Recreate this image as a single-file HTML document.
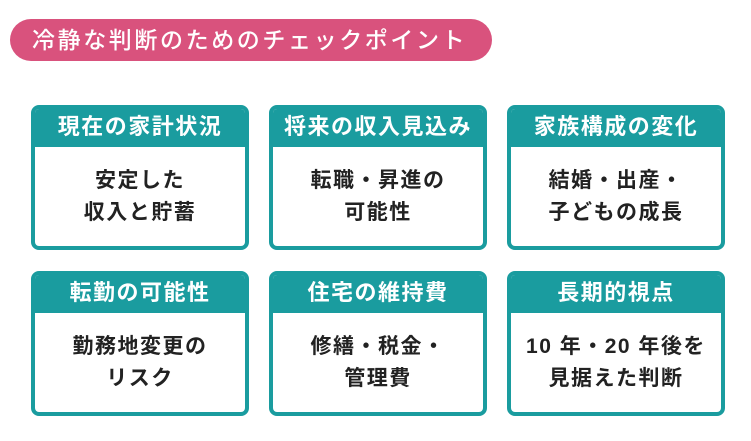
<!DOCTYPE html>
<html><head><meta charset="utf-8"><style>
body{margin:0;width:751px;height:441px;background:#fff;position:relative;overflow:hidden;font-family:"Liberation Sans","Noto Sans CJK JP",sans-serif;}
.pill{position:absolute;left:10px;top:19px;width:482px;height:42px;border-radius:21px;background:#d9527d;color:#fff;font-size:23px;line-height:42px;padding-left:22px;box-sizing:border-box;letter-spacing:2.6px;font-weight:500;white-space:nowrap;}
.box{position:absolute;width:218px;height:145px;box-sizing:border-box;border:4px solid #1a9c9f;border-radius:8px;background:#fff;overflow:hidden;}
.hd{height:38px;background:#1a9c9f;color:#fff;font-size:22px;line-height:36px;text-align:center;font-weight:bold;letter-spacing:1.5px;white-space:nowrap;}
.bd{color:#222;font-size:21px;line-height:32px;text-align:center;padding-top:18px;font-weight:bold;letter-spacing:1.5px;white-space:nowrap;}
</style></head><body>
<div class="pill">冷静な判断のためのチェックポイント</div>
<div class="box" style="left:31px;top:105px"><div class="hd">現在の家計状況</div><div class="bd">安定した<br>収入と貯蓄</div></div>
<div class="box" style="left:269px;top:105px"><div class="hd">将来の収入見込み</div><div class="bd">転職・昇進の<br>可能性</div></div>
<div class="box" style="left:507px;top:105px"><div class="hd">家族構成の変化</div><div class="bd">結婚・出産・<br>子どもの成長</div></div>
<div class="box" style="left:31px;top:271px"><div class="hd">転勤の可能性</div><div class="bd">勤務地変更の<br>リスク</div></div>
<div class="box" style="left:269px;top:271px"><div class="hd">住宅の維持費</div><div class="bd">修繕・税金・<br>管理費</div></div>
<div class="box" style="left:507px;top:271px"><div class="hd">長期的視点</div><div class="bd">10 年・20 年後を<br>見据えた判断</div></div>
</body></html>
